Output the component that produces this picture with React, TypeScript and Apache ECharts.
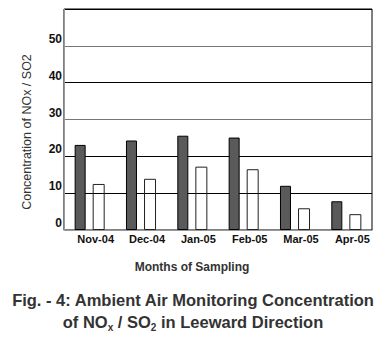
import React, { useEffect, useRef } from "react";
import * as echarts from "echarts";

const months = ["Nov-04", "Dec-04", "Jan-05", "Feb-05", "Mar-05", "Apr-05"];
const noxValues = [23.1, 24.3, 25.6, 25.1, 12.0, 7.8];
const so2Values = [12.5, 13.9, 17.2, 16.5, 5.9, 4.3];
const yTicks = [0, 10, 20, 30, 40, 50];

export default function App() {
  const ref = useRef<HTMLDivElement>(null);
  useEffect(() => {
    if (!ref.current) return;
    const chart = echarts.init(ref.current, null, { renderer: "svg" });
    chart.setOption({
      animation: false,
      backgroundColor: "#fff",
      grid: {
        left: 64,
        right: 14,
        top: 9,
        bottom: 113,
        show: true,
        borderColor: "#000",
        borderWidth: 1,
        backgroundColor: "transparent",
      },
      xAxis: {
        type: "category",
        data: months,
        axisLine: { lineStyle: { color: "#999", width: 1 } },
        axisTick: { show: false },
        axisLabel: {
          interval: 0,
          fontFamily: "'Liberation Sans', Arial, sans-serif",
          fontWeight: "bold",
          fontSize: 11,
          color: "#111",
          margin: 3,
          padding: [0, 0, 0, 12],
        },
      },
      yAxis: {
        type: "value",
        min: 0,
        max: 60,
        interval: 10,
        axisLine: { show: true, lineStyle: { color: "#999", width: 1 } },
        axisTick: { show: false },
        axisLabel: {
          fontFamily: "'Liberation Sans', Arial, sans-serif",
          fontWeight: "bold",
          fontSize: 12,
          color: "#111",
          margin: 2,
          verticalAlign: "bottom",
          padding: [0, 0, 1, 0],
          formatter: (v: number) => (yTicks.includes(v) ? String(v) : ""),
        },
        splitLine: {
          show: true,
          lineStyle: {
            color: ["#999", "#000", "#000", "#777", "#000", "#777", "#000"],
            width: 1,
          },
        },
      },
      series: [
        {
          type: "bar",
          data: noxValues,
          barWidth: 11,
          barGap: "64%",
          itemStyle: { color: "#5a5a5a", borderColor: "#000", borderWidth: 1 },
        },
        {
          type: "bar",
          data: so2Values,
          barWidth: 12,
          itemStyle: { color: "rgba(255,255,255,0)", borderColor: "#222", borderWidth: 1 },
        },
      ],
      graphic: [
        {
          type: "text",
          x: 27,
          y: 132,
          rotation: Math.PI / 2,
          style: {
            text: "Concentration of NOx / SO2",
            fontFamily: "'Liberation Sans', Arial, sans-serif",
            fontSize: 12.5,
            fill: "#333",
            align: "center",
            verticalAlign: "middle",
          },
        },
        {
          type: "text",
          x: 192,
          y: 267,
          style: {
            text: "Months of Sampling",
            fontFamily: "'Liberation Sans', Arial, sans-serif",
            fontSize: 12,
            fontWeight: "bold",
            fill: "#333",
            align: "center",
            verticalAlign: "middle",
          },
        },
        {
          type: "text",
          x: 193,
          y: 300,
          style: {
            text: "Fig. - 4: Ambient Air Monitoring Concentration",
            fontFamily: "'Liberation Sans', Arial, sans-serif",
            fontSize: 16.5,
            fontWeight: "bold",
            fill: "#333",
            align: "center",
            verticalAlign: "middle",
          },
        },
        {
          type: "text",
          x: 193,
          y: 322,
          style: {
            text: "{n|of NO}{s|x}{n| / SO}{s|2}{n| in Leeward Direction}",
            align: "center",
            verticalAlign: "middle",
            rich: {
              n: {
                fontFamily: "'Liberation Sans', Arial, sans-serif",
                fontSize: 16.5,
                fontWeight: "bold",
                fill: "#333",
                color: "#333",
                lineHeight: 20,
                verticalAlign: "middle",
              },
              s: {
                fontFamily: "'Liberation Sans', Arial, sans-serif",
                fontSize: 10,
                fontWeight: "bold",
                fill: "#333",
                color: "#333",
                lineHeight: 20,
                verticalAlign: "bottom",
                padding: [8, 0, 0, 0],
              },
            },
          },
        },
      ],
    });
    return () => chart.dispose();
  }, []);
  return <div ref={ref} style={{ width: 386, height: 343, position: "absolute", left: 0, top: 0 }} />;
}
